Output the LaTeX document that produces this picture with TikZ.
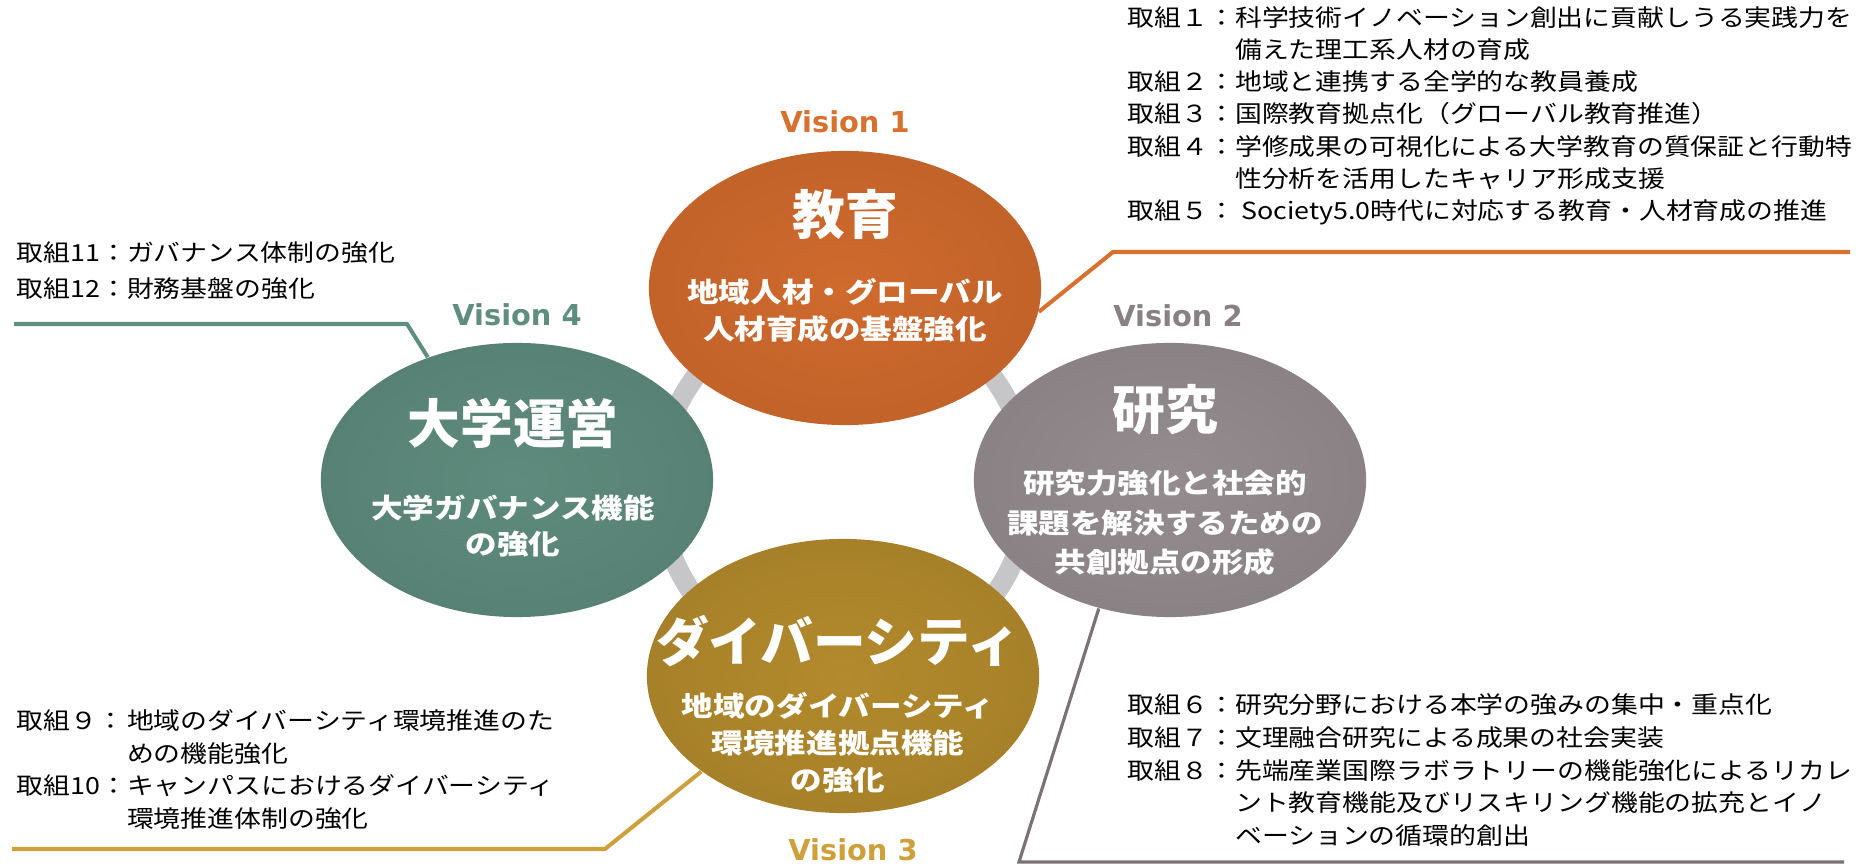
\documentclass[tikz,border=0pt]{standalone}
\usepackage{fontspec}
\usetikzlibrary{shapes.geometric,positioning}
\newfontfamily\jplist[FakeStretch=1.14]{Noto Sans CJK JP}
\newfontfamily\jpbody[FakeStretch=1.15]{Noto Sans CJK JP}
\newfontfamily\jphead{Noto Sans CJK JP}
\newfontfamily\visfont{DejaVu Sans}

\definecolor{kyoikuC}{HTML}{D06A2D}
\definecolor{kenkyuC}{HTML}{948C8E}
\definecolor{diverC}{HTML}{B38A2C}
\definecolor{uneiC}{HTML}{5E8B7D}
\definecolor{ringC}{HTML}{C6C6C8}
\definecolor{kyoikuL}{HTML}{D8702E}
\definecolor{kenkyuL}{HTML}{7B7274}
\definecolor{diverL}{HTML}{CEA03A}
\definecolor{uneiL}{HTML}{5F8E80}

\tikzset{
  vision/.style={ellipse, minimum width=3.92cm, minimum height=2.74cm, inner sep=0pt,
    shading=radial, inner color=#1, outer color=#1!93!black},
  heading/.style={text=white, inner sep=0pt, font=\jphead\bfseries\fontsize{15}{18}\selectfont},
  subhead/.style={text=white, inner sep=0pt, align=center, font=\jpbody\bfseries\fontsize{7.8}{10.5}\selectfont},
  visionlabel/.style={inner sep=0pt, font=\visfont\bfseries\fontsize{8.2}{10}\selectfont},
  plan/.style={anchor=base west, inner sep=0pt},
  leader/.style={line width=1.15pt},
  ring/.style={ringC, line width=0.2cm}
}

\begin{document}
\begin{tikzpicture}[x=0.01cm, y=-0.01cm]
  \useasboundingbox (0,0) rectangle (1865,867);

  % ring behind the four visions
  \draw[ring] (844,487) circle [radius=185];

  % leader lines
  \coordinate (kyoikuBend) at (1113,252);
  \coordinate (kyoikuEnd)  at (1850,252);
  \coordinate (kenkyuBend) at (1019,862);
  \coordinate (kenkyuEnd)  at (1844,862);
  \coordinate (diverBend)  at (605,849);
  \coordinate (diverEnd)   at (12,849);
  \coordinate (uneiBend)   at (407,324);
  \coordinate (uneiEnd)    at (14,324);

  \node[vision=kyoikuC] (kyoiku)    at (845,288)  {};
  \node[vision=kenkyuC] (kenkyu)    at (1170,480) {};
  \node[vision=diverC]  (diversity) at (843,676)  {};
  \node[vision=uneiC]   (unei)      at (517,480)  {};

  \draw[leader, kyoikuL] (kyoiku.-7) -- (kyoikuBend) -- (kyoikuEnd);
  \draw[leader, kenkyuL, line width=0.9pt] (kenkyu.241) -- (kenkyuBend) -- (kenkyuEnd);
  \draw[leader, diverL] (diversity.214) -- (diverBend) -- (diverEnd);
  \draw[leader, uneiL] (unei.126) -- (uneiBend) -- (uneiEnd);

  % titles and subtitles
  \node[heading] (kyoikuTitle) at (845,215) {教育};
  \node[subhead] (kyoikuSub) [below of=kyoikuTitle, node distance=0.95cm]
        {地域人材・グローバル\\人材育成の基盤強化};
  \node[heading] (kenkyuTitle) at (1165,410) {研究};
  \node[subhead, font=\jpbody\bfseries\fontsize{7.8}{11.2}\selectfont] (kenkyuSub)
        [below of=kenkyuTitle, node distance=1.13cm]
        {研究力強化と社会的\\課題を解決するための\\共創拠点の形成};
  \node[heading] (diverTitle) at (838,641) {ダイバーシティ};
  \node[subhead] (diverSub) [below of=diverTitle, node distance=1.02cm]
        {地域のダイバーシティ\\環境推進拠点機能\\の強化};
  \node[heading] (uneiTitle) at (513,423) {大学運営};
  \node[subhead] (uneiSub) [below of=uneiTitle, node distance=1.03cm]
        {大学ガバナンス機能\\の強化};

  % vision labels
  \node[visionlabel, text=kyoikuL] (vis1) [above=0.17cm of kyoiku] {Vision 1};
  \node[visionlabel, text=kenkyuL!90] (vis2) [above=0.15cm of kenkyu, xshift=0.08cm] {Vision 2};
  \node[visionlabel, text=diverL] (vis3) [below=0.24cm of diversity, xshift=0.1cm] {Vision 3};
  \node[visionlabel, text=uneiL] (vis4) [above=0.16cm of unei] {Vision 4};

  % lists of initiatives
  \node[plan, font=\jplist\fontsize{6.7}{9.1}\selectfont] (planKyoiku) at (1127,27) {%
    \begin{tabular}[t]{@{}l@{}l@{}}
      取組１：& 科学技術イノベーション創出に貢献しうる実践力を\\
              & 備えた理工系人材の育成\\
      取組２：& 地域と連携する全学的な教員養成\\
      取組３：& 国際教育拠点化（グローバル教育推進）\\
      取組４：& 学修成果の可視化による大学教育の質保証と行動特\\
              & 性分析を活用したキャリア形成支援\\
      取組５：& \ Society5.0時代に対応する教育・人材育成の推進
    \end{tabular}};
  \node[plan, font=\jplist\fontsize{6.7}{9.25}\selectfont] (planKenkyu) at (1127,714) {%
    \begin{tabular}[t]{@{}l@{}l@{}}
      取組６：& 研究分野における本学の強みの集中・重点化\\
      取組７：& 文理融合研究による成果の社会実装\\
      取組８：& 先端産業国際ラボラトリーの機能強化によるリカレ\\
              & ント教育機能及びリスキリング機能の拡充とイノ\\
              & ベーションの循環的創出
    \end{tabular}};
  \node[plan, font=\jplist\fontsize{6.7}{9.2}\selectfont] (planDiver) at (16,730) {%
    \begin{tabular}[t]{@{}l@{}l@{}}
      取組９：& 地域のダイバーシティ環境推進のた\\
              & めの機能強化\\
      取組10：& キャンパスにおけるダイバーシティ\\
              & 環境推進体制の強化
    \end{tabular}};
  \node[plan, font=\jplist\fontsize{6.7}{10}\selectfont] (planUnei) at (16,262) {%
    \begin{tabular}[t]{@{}l@{}l@{}}
      取組11：& ガバナンス体制の強化\\
      取組12：& 財務基盤の強化
    \end{tabular}};
\end{tikzpicture}
\end{document}
